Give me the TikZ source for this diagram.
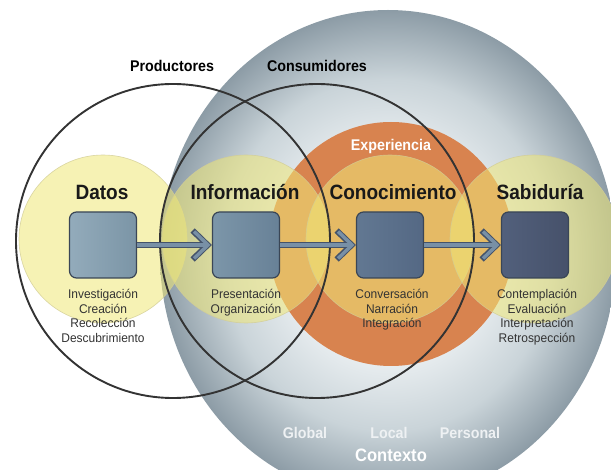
\documentclass[tikz,border=0pt]{standalone}
\usepackage{fontspec}
\setmainfont{Liberation Sans}
\newfontfamily\condf{Liberation Sans}[FakeStretch=0.92]
\newfontfamily\smallf{Liberation Sans}[FakeStretch=0.95]
\usetikzlibrary{arrows.meta}
\definecolor{orangec}{HTML}{D8834F}
\definecolor{yellowc}{HTML}{F0E878}
\definecolor{yellowedge}{HTML}{D2CD95}
\definecolor{ringc}{HTML}{333333}
\definecolor{boxedge}{HTML}{3A4656}
\definecolor{arrdarkc}{HTML}{44536A}
\definecolor{arrlightc}{HTML}{7890A6}
\definecolor{labelgray}{HTML}{EEF1F3}
\pgfdeclareradialshading{ctxshade}{\pgfpoint{0bp}{0bp}}{rgb(0bp)=(0.94,0.95,0.95); rgb(11bp)=(0.91,0.93,0.94); rgb(18bp)=(0.79,0.83,0.85); rgb(25bp)=(0.55,0.61,0.65); rgb(50bp)=(0.55,0.61,0.65)}
\begin{document}
\begin{tikzpicture}[x=1pt,y=-1pt,
  ringline/.style={draw=ringc, line width=1.9pt},
  yellowdisc/.style={fill=yellowc, fill opacity=0.55, draw=yellowedge, draw opacity=0.8, line width=0.6pt},
  stagebox/.style={rounded corners=7pt, minimum width=67pt, minimum height=66pt, inner sep=0pt, draw=boxedge, line width=1.2pt},
  title/.style={anchor=base, inner sep=0pt, text=black!90, font=\condf\bfseries\fontsize{20.7}{24}\selectfont},
  sub/.style={anchor=north, align=center, inner sep=0pt, text=black!80, font=\smallf\fontsize{12.6}{14.7}\selectfont},
  toplabel/.style={anchor=base, inner sep=0pt, text=black, font=\condf\bfseries\fontsize{15.5}{18}\selectfont},
  ctxlabel/.style={anchor=base, inner sep=0pt, text=labelgray, font=\condf\bfseries\fontsize{15.5}{18}\selectfont},
  arrdark/.style={draw=arrdarkc, line width=6pt, line join=miter, -{Straight Barb[length=15pt, width=29pt]}},
  arrlight/.style={draw=arrlightc, line width=3.4pt, line join=miter, shorten >=1.4pt, -{Straight Barb[length=14pt, width=27pt]}}
]
\useasboundingbox (0,0) rectangle (611,470);
\clip (0,0) rectangle (611,470);
\fill[white] (0,0) rectangle (611,470);

% context sphere
\shade[shading=ctxshade] (388,255) ellipse [x radius=228, y radius=245];
% experience disc
\fill[orangec] (391,244) circle [radius=122];
% yellow stage discs
\foreach \cx in {103,246,390,534}
  \path[yellowdisc] (\cx,239) circle [radius=84];
% producers / consumers rings
\draw[ringline] (173,241) circle [radius=157];
\draw[ringline] (317,241) circle [radius=157];

% boxes
\node[stagebox, left color={rgb,255:red,147;green,171;blue,187}, right color={rgb,255:red,123;green,149;blue,166}] (d) at (103,245) {};
\node[stagebox, left color={rgb,255:red,124;green,150;blue,169}, right color={rgb,255:red,104;green,129;blue,151}] (i) at (246,245) {};
\node[stagebox, left color={rgb,255:red,98;green,120;blue,146}, right color={rgb,255:red,84;green,104;blue,132}] (c) at (390,245) {};
\node[stagebox, left color={rgb,255:red,82;green,96;blue,124}, right color={rgb,255:red,70;green,81;blue,106}] (s) at (535,245) {};

% arrows
\draw[arrdark] (d.east) -- (i.west);
\draw[arrlight] (d.east) -- (i.west);
\draw[arrdark] (i.east) -- (c.west);
\draw[arrlight] (i.east) -- (c.west);
\draw[arrdark] (c.east) -- (s.west);
\draw[arrlight] (c.east) -- (s.west);

% titles
\node[title] (td) at (102,199.5) {Datos};
\node[title] (ti) at (245,199.5) {Información};
\node[title] (tc) at (393,199.5) {Conocimiento};
\node[title] (ts) at (540,199.5) {Sabiduría};

% activities
\node[sub] (ad) at (103,289) {Investigación\\Creación\\Recolección\\Descubrimiento};
\node[sub] (ai) at (246,289) {Presentación\\Organización};
\node[sub] (ac) at (392,289) {Conversación\\Narración\\Integración};
\node[sub] (as) at (537,289) {Contemplación\\Evaluación\\Interpretación\\Retrospección};

% top labels
\node[toplabel] (prod) at (172,71.5) {Productores};
\node[toplabel] (cons) at (317,71.5) {Consumidores};
\node[ctxlabel, text=white] (exp) at (391,150.5) {Experiencia};

% context labels
\node[ctxlabel] (glob) at (305,438.5) {Global};
\node[ctxlabel] (loc) at (389,438.5) {Local};
\node[ctxlabel] (pers) at (470,438.5) {Personal};
\node[ctxlabel, text=white, font=\condf\bfseries\fontsize{18}{20}\selectfont] (ctx) at (391,461.5) {Contexto};
\end{tikzpicture}
\end{document}
